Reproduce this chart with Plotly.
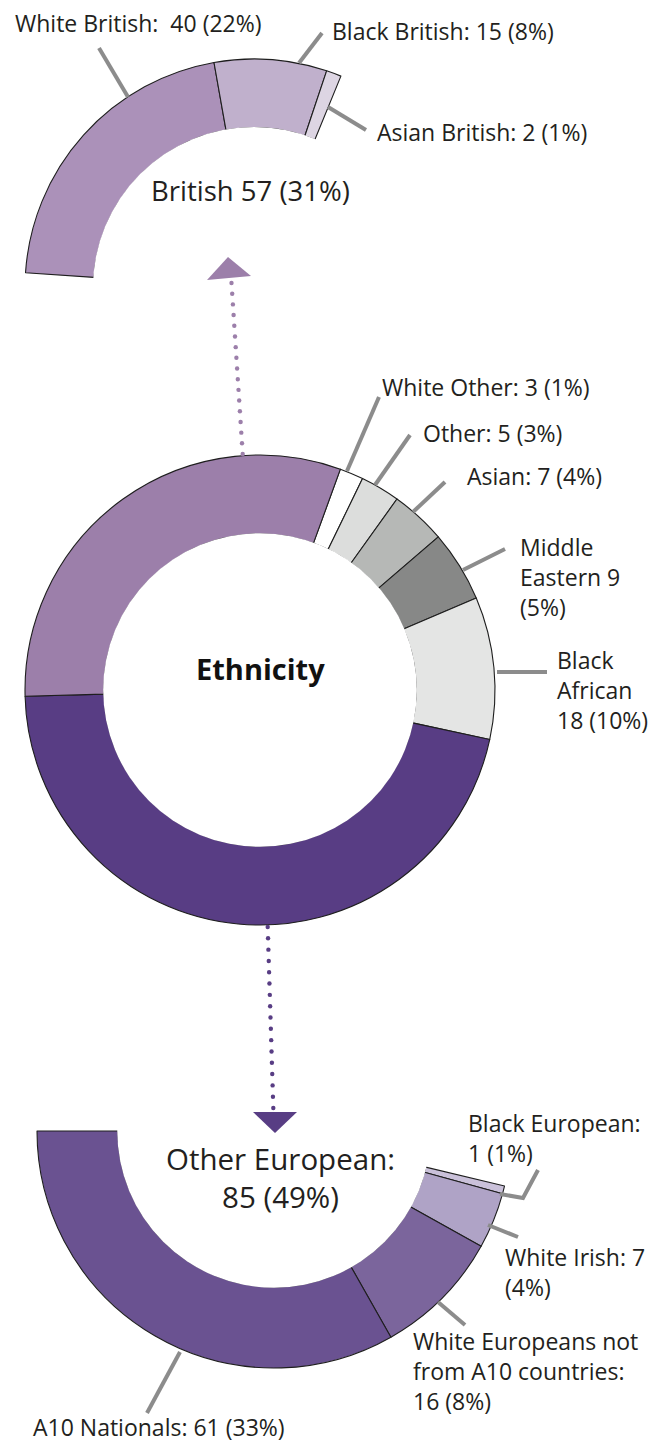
import numpy as np
import plotly.graph_objects as go

W, H = 665, 1445

# ---------------- data ----------------
eth_names = ["White Other", "Other", "Asian", "Middle Eastern", "Black African",
             "Other European", "British"]
eth_values = [3, 5, 7, 9, 18, 85, 57]
eth_pcts = [1, 3, 4, 5, 10, 49, 31]

brit_names = ["White British", "Black British", "Asian British"]
brit_values = [40, 15, 2]
brit_pcts = [22, 8, 1]

euro_names = ["Black European", "White Irish",
              "White Europeans not from A10 countries", "A10 Nationals"]
euro_values = [1, 7, 16, 61]
euro_pcts = [1, 4, 8, 33]

centre_title = "Ethnicity"

# ---------------- styles ----------------
eth_colors = ["#FFFFFF", "#DCDDDC", "#B6B8B6", "#878887", "#E4E5E4", "#583D84", "#9C7FAA"]
brit_colors = ["#AB91B9", "#C0B0CC", "#DDD5E3"]
euro_colors = ["#CAC1DA", "#AFA3C6", "#7B659C", "#6A5291"]
TXT = "#231F20"
LEADER = "#8C8C8C"
FONT = "Open Sans"
OUTLINE = "#1E1E1E"
LABEL_SIZE = 23
TX_OFF = -2  # annotation box padding compensation

# geometry (pixels)
MID = dict(cx=260, cy=690, r=235, hole=0.664, rotation=20)
TOP = dict(cx=254, cy=288, r=229, hole=0.70, start=273.8, span=108.5)
BOT = dict(cx=274, cy=1131, r=237, hole=0.658, start=103.4, span=166.6)


def dom(g):
    return dict(x=[(g["cx"] - g["r"]) / W, (g["cx"] + g["r"]) / W],
                y=[1 - (g["cy"] + g["r"]) / H, 1 - (g["cy"] - g["r"]) / H])


def px(x, y):
    return x / W, 1 - y / H


fig = go.Figure()

# middle full donut
fig.add_trace(go.Pie(
    labels=eth_names, values=eth_values, sort=False, direction="clockwise",
    rotation=MID["rotation"], hole=MID["hole"], domain=dom(MID),
    marker=dict(colors=eth_colors, line=dict(color=OUTLINE, width=1.1)),
    textinfo="none", hoverinfo="label+value", showlegend=False))


def arc_pie(names, values, colors, g):
    tot = sum(values)
    spacer = tot * (360.0 / g["span"] - 1.0)
    return go.Pie(
        labels=names + ["_gap"], values=values + [spacer], sort=False,
        direction="clockwise", rotation=g["start"], hole=g["hole"], domain=dom(g),
        marker=dict(colors=colors + ["rgba(0,0,0,0)"],
                    line=dict(color=OUTLINE, width=[1.1] * len(values) + [0])),
        textinfo="none", hoverinfo="label+value", showlegend=False)


fig.add_trace(arc_pie(brit_names, brit_values, brit_colors, TOP))
fig.add_trace(arc_pie(euro_names, euro_values, euro_colors, BOT))

shapes = []
annotations = []

# cover inner outlines of the rings with white discs
for g in (TOP, MID, BOT):
    ri = g["r"] * g["hole"] + 0.8
    x0, y1 = px(g["cx"] - ri, g["cy"] - ri)
    x1, y0 = px(g["cx"] + ri, g["cy"] + ri)
    shapes.append(dict(type="circle", xref="paper", yref="paper", x0=x0, x1=x1,
                       y0=y0, y1=y1, fillcolor="white", line=dict(width=0),
                       layer="above"))


def path(pts, close=False):
    s = "M " + " L ".join(f"{x / W:.5f},{1 - y / H:.5f}" for x, y in pts)
    return s + (" Z" if close else "")


# label placements: (template, text x-left, text y, y-anchor, leader points)
brit_layout = [
    ("White British:  {v} ({p}%)", 15, 23, "middle", [(99, 48), (128, 97)]),
    ("Black British: {v} ({p}%)", 332, 31, "middle", [(322, 33), (299, 63)]),
    ("Asian British: {v} ({p}%)", 377, 132, "middle", [(366, 130), (328, 107)]),
]
eth_layout = [
    ("White Other: {v} ({p}%)", 382, 387, "middle", [(379, 397), (347, 471)]),
    ("Other: {v} ({p}%)", 423, 433, "middle", [(410, 435), (375, 485)]),
    ("Asian: {v} ({p}%)", 467, 476, "middle", [(445, 482), (413, 512)]),
    ("Middle<br>Eastern {v}<br>({p}%)", 520, 577, "middle", [(505, 549), (463, 570)]),
    ("Black<br>African<br>{v} ({p}%)", 557, 690, "middle", [(547, 672), (497, 672)]),
]
euro_layout = [
    ("Black European:<br>{v} ({p}%)", 468, 1138, "middle",
     [(538, 1170), (523, 1198), (500, 1194)]),
    ("White Irish: {v}<br>({p}%)", 505, 1272, "middle", [(518, 1237), (488, 1225)]),
    ("White Europeans not<br>from A10 countries:<br>{v} ({p}%)", 413, 1371, "middle",
     [(465, 1325), (438, 1302)]),
    ("A10 Nationals: {v} ({p}%)", 33, 1445, "bottom", [(147, 1413), (180, 1352)]),
]


def add_labels(layout, values, pcts):
    for (tpl, tx, ty, ya, pts), v, p in zip(layout, values, pcts):
        shapes.append(dict(type="path", xref="paper", yref="paper", path=path(pts),
                           line=dict(color=LEADER, width=4), layer="above"))
        x, y = px(tx + TX_OFF, ty)
        annotations.append(dict(x=x, y=y, xref="paper", yref="paper",
                                text=tpl.format(v=v, p=p), showarrow=False,
                                xanchor="left", yanchor=ya, align="left",
                                font=dict(family=FONT, size=LABEL_SIZE, color=TXT)))


add_labels(brit_layout, brit_values, brit_pcts)
add_labels(eth_layout, eth_values[:5], eth_pcts[:5])
add_labels(euro_layout, euro_values, euro_pcts)

# group titles
x, y = px(151 + TX_OFF, 190)
annotations.append(dict(x=x, y=y, xref="paper", yref="paper", showarrow=False,
                        text=f"British {sum(brit_values)} ({eth_pcts[6]}%)",
                        xanchor="left", yanchor="middle",
                        font=dict(family=FONT, size=27.5, color=TXT)))
x, y = px(280, 1177)
annotations.append(dict(x=x, y=y, xref="paper", yref="paper", showarrow=False,
                        text=f"Other European:<br>{sum(euro_values)} ({eth_pcts[5]}%)",
                        xanchor="center", yanchor="middle", align="center",
                        font=dict(family=FONT, size=29.5, color=TXT)))
x, y = px(MID["cx"], 668)
annotations.append(dict(x=x, y=y, xref="paper", yref="paper", showarrow=False,
                        text=f"<b>{centre_title}</b>", xanchor="center", yanchor="middle",
                        font=dict(family=FONT, size=29, color="#111111")))


# dotted arrows
def dotted(p0, p1, color, n):
    for t in np.linspace(0, 1, n):
        cx = p0[0] + (p1[0] - p0[0]) * t
        cy = p0[1] + (p1[1] - p0[1]) * t
        x0, y1 = px(cx - 2.2, cy - 2.2)
        x1, y0 = px(cx + 2.2, cy + 2.2)
        shapes.append(dict(type="circle", xref="paper", yref="paper", x0=x0, x1=x1,
                           y0=y0, y1=y1, fillcolor=color, line=dict(width=0),
                           layer="above"))


dotted((242.7, 454), (231.5, 283), "#9C7FAA", 17)
shapes.append(dict(type="path", xref="paper", yref="paper",
                   path=path([(228, 257), (207, 280), (251, 276)], close=True),
                   fillcolor="#9C7FAA", line=dict(width=0), layer="above"))
dotted((267.7, 927), (273.3, 1108), "#583D84", 17)
shapes.append(dict(type="path", xref="paper", yref="paper",
                   path=path([(253, 1112), (297, 1112), (275, 1133)], close=True),
                   fillcolor="#583D84", line=dict(width=0), layer="above"))

fig.update_layout(
    width=W, height=H, margin=dict(l=0, r=0, t=0, b=0),
    paper_bgcolor="white", plot_bgcolor="white",
    shapes=shapes, annotations=annotations, showlegend=False,
)

fig.write_html("out.html")
